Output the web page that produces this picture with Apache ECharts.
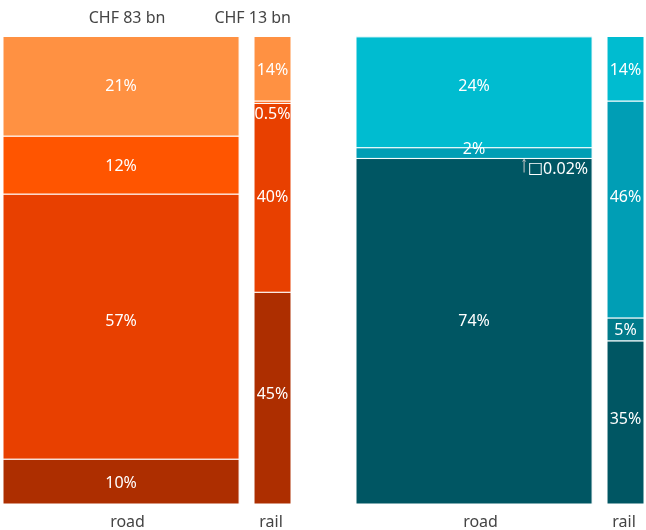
<!DOCTYPE html>
<html><head><meta charset="utf-8">
<script src="https://cdn.jsdelivr.net/npm/echarts@6/dist/echarts.min.js"></script>
<style>html,body{margin:0;padding:0;background:#fff}#c{width:646px;height:530px}</style>
</head><body><div id="c"></div>
<script>
// categories (column widths = spending, CHF bn)
const modes = ['road', 'rail'];
const spendingBn = [83, 13];
const totalLabels = ['CHF 83 bn', 'CHF 13 bn'];
// shares in %, bottom-to-top
const leftRoad = [9.6, 56.7, 12.4, 21.3];
const leftRail = [45.3, 40.4, 0.5, 13.8];
const rightRoad = [73.9, 0.02, 2.3, 23.7];
const rightRail = [34.9, 4.9, 46.4, 13.8];
const orangeColors = ['#AD2E00', '#E84000', '#FF5500', '#FF9142'];
const tealColors = ['#005663', '#007A8A', '#009EB5', '#00BCD0'];

// layout only: vertical nudge (px) of in-segment labels, per panel / column / segment
const labelNudge = {
  left:  [[1.5, -5, 1.5, 0], [-4, 0, 0, 2]],
  right: [[-10, 0, 0, -6], [-2.5, 1, -12.5, 2]]
};

const GAP = 5.25;
const FONT = '"Noto Sans", "Open Sans", sans-serif';

function buildData(shares) {
  const out = [];
  let x = 0;
  shares.forEach((col, i) => {
    let y = 0;
    col.forEach((v, j) => {
      out.push([x, x + spendingBn[i], y, y + v, v, i, j]);
      y += v;
    });
    x += spendingBn[i] + GAP;
  });
  return out;
}
function fmt(v) { return v >= 1 ? Math.round(v) + '%' : v + '%'; }

function makeRender(colors, showTop, nudge) {
  return function (params, api) {
    const x0 = api.value(0), x1 = api.value(1), y0 = api.value(2), y1 = api.value(3);
    const v = api.value(4), mi = api.value(5), sj = api.value(6);
    const pA = api.coord([x0, y0]), pB = api.coord([x1, y1]);
    const r = { x: pA[0], y: pB[1], width: pB[0] - pA[0], height: pA[1] - pB[1] };
    const children = [{
      type: 'rect', shape: r,
      style: { fill: colors[sj], stroke: '#fff', lineWidth: 1 }
    }];
    const cx = r.x + r.width / 2;
    const base = { fill: '#fff', font: '16px ' + FONT, align: 'center', verticalAlign: 'middle' };
    if (v < 0.1) {
      const right = r.x + r.width - 4;
      const ty = r.y + r.height + 10.5;
      children.push({ type: 'text', z2: 100, style: Object.assign({}, base, {
        x: right, y: ty, align: 'right',
        text: '{b|□}' + fmt(v),
        rich: { b: { fill: '#fff', font: '16px "DejaVu Sans"' } }
      }) });
      const ax = right - 64;
      children.push({ type: 'polyline', z2: 100,
        shape: { points: [[ax, r.y + r.height + 14], [ax, r.y + r.height + 1]] },
        style: { stroke: '#c8c8c8', lineWidth: 1, fill: null } });
      children.push({ type: 'polyline', z2: 100,
        shape: { points: [[ax - 1.5, r.y + r.height + 3], [ax, r.y + r.height + 1], [ax + 1.5, r.y + r.height + 3]] },
        style: { stroke: '#c8c8c8', lineWidth: 1, fill: null } });
    } else if (r.height < 5) {
      children.push({ type: 'text', z2: 100, style: Object.assign({}, base, {
        x: cx, y: r.y + r.height + 11, text: fmt(v) }) });
    } else if (r.height < 20) {
      children.push({ type: 'text', z2: 100, style: Object.assign({}, base, {
        x: cx, y: r.y + 2, text: fmt(v) }) });
    } else {
      children.push({ type: 'text', z2: 100, style: Object.assign({}, base, {
        x: cx, y: r.y + r.height / 2 + nudge[mi][sj], text: fmt(v) }) });
    }
    if (sj === 0) {
      const bottomY = pA[1];
      children.push({ type: 'text', style: {
        x: mi === 0 ? cx + 6.5 : cx - 1.5, y: bottomY + 18, text: modes[mi],
        fill: '#444', font: '16px ' + FONT, align: 'center', verticalAlign: 'middle' } });
      if (showTop) {
        const topY = api.coord([x0, 100])[1];
        children.push({ type: 'text', style: {
          x: mi === 0 ? cx + 6 : r.x + r.width, y: topY - 18, text: totalLabels[mi],
          fill: '#444', font: '16px ' + FONT, align: mi === 0 ? 'center' : 'right', verticalAlign: 'middle' } });
      }
    }
    return { type: 'group', children };
  };
}

const xMax = spendingBn[0] + GAP + spendingBn[1];
const chart = echarts.init(document.getElementById('c'), null, { renderer: 'canvas' });
const axisX = (gi) => ({ type: 'value', gridIndex: gi, min: 0, max: xMax, show: false });
const axisY = (gi) => ({ type: 'value', gridIndex: gi, min: 0, max: 100, show: false });
chart.setOption({
  animation: false,
  grid: [
    { left: 3, top: 36.5, width: 288, height: 467.5 },
    { left: 356, top: 36.5, width: 288, height: 467.5 }
  ],
  xAxis: [axisX(0), axisX(1)],
  yAxis: [axisY(0), axisY(1)],
  series: [
    { type: 'custom', xAxisIndex: 0, yAxisIndex: 0, clip: false,
      renderItem: makeRender(orangeColors, true, labelNudge.left),
      data: buildData([leftRoad, leftRail]) },
    { type: 'custom', xAxisIndex: 1, yAxisIndex: 1, clip: false,
      renderItem: makeRender(tealColors, false, labelNudge.right),
      data: buildData([rightRoad, rightRail]) }
  ]
});
</script></body></html>
